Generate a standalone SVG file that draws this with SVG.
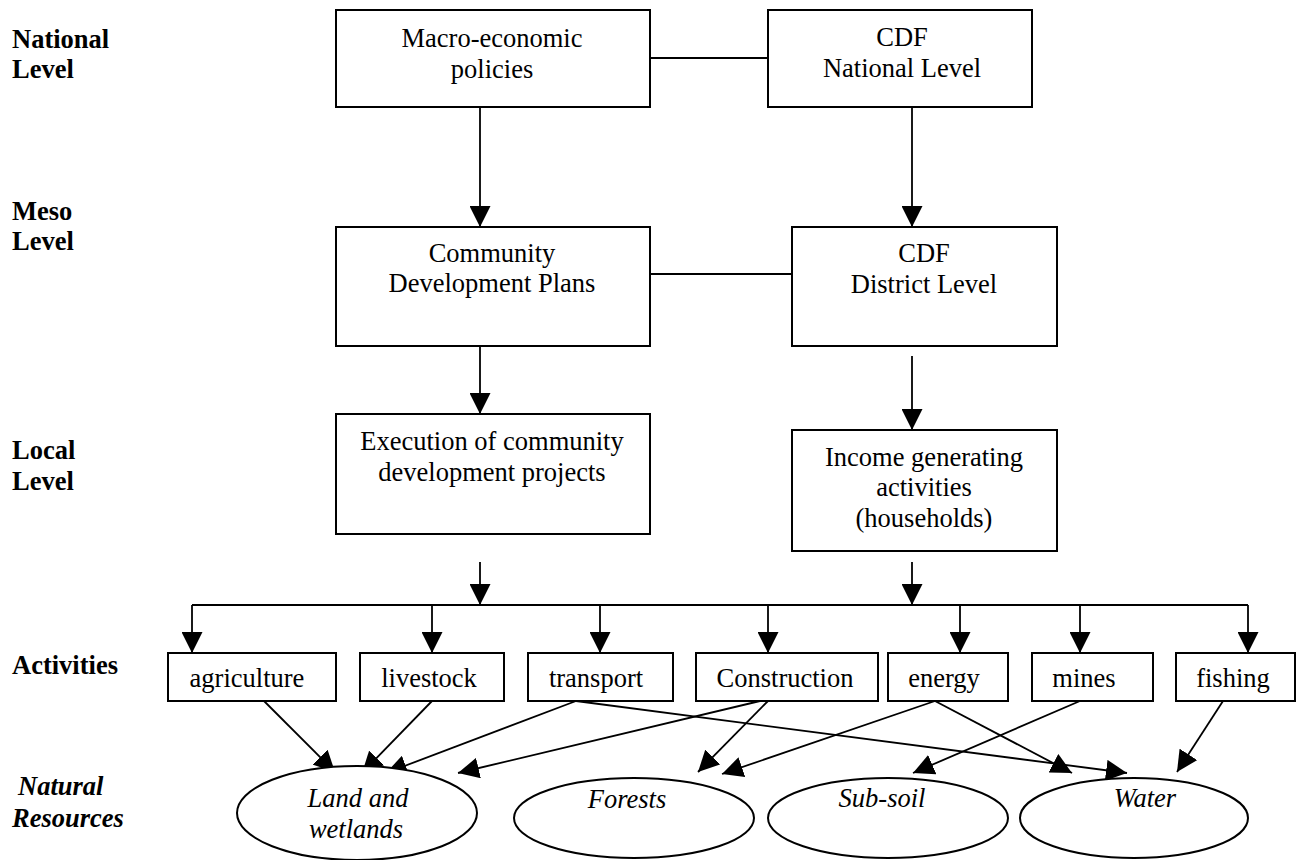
<svg xmlns="http://www.w3.org/2000/svg" width="1296" height="860" viewBox="0 0 1296 860">
<style>
  .box { fill: #fff; stroke: #000; stroke-width: 2; }
  .res { fill: #fff; stroke: #000; stroke-width: 2; }
  .ln { fill: none; stroke: #000; stroke-width: 1.8; }
  .ar { fill: none; stroke: #000; stroke-width: 1.8; marker-end: url(#ah); }
  .t { font-family: "Liberation Serif", "Times New Roman", serif; font-size: 26.5px; fill: #000; text-anchor: middle; }
  .ti { font-family: "Liberation Serif", "Times New Roman", serif; font-size: 26.5px; font-style: italic; fill: #000; text-anchor: middle; }
  .lbl { font-family: "Liberation Serif", "Times New Roman", serif; font-size: 26.5px; font-weight: bold; fill: #000; }
  .lbli { font-family: "Liberation Serif", "Times New Roman", serif; font-size: 26.5px; font-weight: bold; font-style: italic; fill: #000; }
</style>
<defs>
  <marker id="ah" markerUnits="userSpaceOnUse" markerWidth="21" markerHeight="21" refX="20" refY="10" orient="auto" viewBox="0 0 20 20">
    <path d="M0,0 L20,10 L0,20 Z" fill="#000"/>
  </marker>
</defs>
<rect width="1296" height="860" fill="#fff"/>

<g id="level-labels">
  <text class="lbl" x="12" y="48">National</text>
  <text class="lbl" x="12" y="78">Level</text>
  <text class="lbl" x="12" y="220">Meso</text>
  <text class="lbl" x="12" y="250">Level</text>
  <text class="lbl" x="12" y="459">Local</text>
  <text class="lbl" x="12" y="490">Level</text>
  <text class="lbl" x="12" y="674">Activities</text>
  <text class="lbli" x="18" y="795">Natural</text>
  <text class="lbli" x="12" y="827">Resources</text>
</g>

<g id="connectors">
  <line class="ln" x1="650" y1="58" x2="768" y2="58"/>
  <line class="ln" x1="650" y1="274" x2="792" y2="274"/>
  <line class="ar" x1="480" y1="107" x2="480" y2="227"/>
  <line class="ar" x1="912" y1="107" x2="912" y2="227"/>
  <line class="ar" x1="480" y1="346" x2="480" y2="414"/>
  <line class="ar" x1="912" y1="356" x2="912" y2="430"/>
  <line class="ar" x1="480" y1="562" x2="480" y2="605"/>
  <line class="ar" x1="912" y1="562" x2="912" y2="605"/>
  <line class="ln" x1="192" y1="605" x2="1248" y2="605"/>
  <line class="ar" x1="192" y1="605" x2="192" y2="653"/>
  <line class="ar" x1="432" y1="605" x2="432" y2="653"/>
  <line class="ar" x1="600" y1="605" x2="600" y2="653"/>
  <line class="ar" x1="768" y1="605" x2="768" y2="653"/>
  <line class="ar" x1="960" y1="605" x2="960" y2="653"/>
  <line class="ar" x1="1080" y1="605" x2="1080" y2="653"/>
  <line class="ar" x1="1248" y1="605" x2="1248" y2="653"/>
  <line class="ar" x1="264" y1="701" x2="335" y2="772"/>
  <line class="ar" x1="432" y1="701" x2="362" y2="773"/>
  <line class="ar" x1="576" y1="701" x2="386" y2="773"/>
  <line class="ar" x1="576" y1="701" x2="1127" y2="773"/>
  <line class="ar" x1="760" y1="701" x2="458" y2="773"/>
  <line class="ar" x1="768" y1="701" x2="698" y2="772"/>
  <line class="ar" x1="935" y1="701" x2="722" y2="774"/>
  <line class="ar" x1="935" y1="701" x2="1072" y2="773"/>
  <line class="ar" x1="1080" y1="701" x2="913" y2="773"/>
  <line class="ar" x1="1223" y1="701" x2="1177" y2="772"/>
</g>

<g id="macro">
  <rect class="box" x="336" y="10" width="314" height="97"/>
  <text class="t" x="492" y="47">Macro-economic</text>
  <text class="t" x="492" y="78">policies</text>
</g>
<g id="cdf-national">
  <rect class="box" x="768" y="10" width="264" height="97"/>
  <text class="t" x="902" y="46">CDF</text>
  <text class="t" x="902" y="77">National Level</text>
</g>
<g id="cdp">
  <rect class="box" x="336" y="227" width="314" height="119"/>
  <text class="t" x="492" y="262">Community</text>
  <text class="t" x="492" y="292">Development Plans</text>
</g>
<g id="cdf-district">
  <rect class="box" x="792" y="227" width="265" height="119"/>
  <text class="t" x="924" y="262">CDF</text>
  <text class="t" x="924" y="293">District Level</text>
</g>
<g id="execution">
  <rect class="box" x="336" y="414" width="314" height="120"/>
  <text class="t" x="492" y="450">Execution of community</text>
  <text class="t" x="492" y="481">development projects</text>
</g>
<g id="income">
  <rect class="box" x="792" y="430" width="265" height="121"/>
  <text class="t" x="924" y="466">Income generating</text>
  <text class="t" x="924" y="496">activities</text>
  <text class="t" x="924" y="527">(households)</text>
</g>

<g id="agriculture">
  <rect class="box" x="168" y="653" width="168" height="48"/>
  <text class="t" x="247" y="687">agriculture</text>
</g>
<g id="livestock">
  <rect class="box" x="360" y="653" width="144" height="48"/>
  <text class="t" x="429" y="687">livestock</text>
</g>
<g id="transport">
  <rect class="box" x="528" y="653" width="145" height="48"/>
  <text class="t" x="596" y="687">transport</text>
</g>
<g id="construction">
  <rect class="box" x="696" y="653" width="182" height="48"/>
  <text class="t" x="785" y="687">Construction</text>
</g>
<g id="energy">
  <rect class="box" x="888" y="653" width="120" height="48"/>
  <text class="t" x="944" y="687">energy</text>
</g>
<g id="mines">
  <rect class="box" x="1032" y="653" width="121" height="48"/>
  <text class="t" x="1084" y="687">mines</text>
</g>
<g id="fishing">
  <rect class="box" x="1176" y="653" width="119" height="48"/>
  <text class="t" x="1233" y="687">fishing</text>
</g>

<g id="land">
  <ellipse class="res" cx="357" cy="813" rx="120" ry="47"/>
  <text class="ti" x="358" y="807">Land and</text>
  <text class="ti" x="356" y="838">wetlands</text>
</g>
<g id="forests">
  <ellipse class="res" cx="634" cy="818" rx="120" ry="40"/>
  <text class="ti" x="627" y="808">Forests</text>
</g>
<g id="subsoil">
  <ellipse class="res" cx="888" cy="818" rx="120" ry="40"/>
  <text class="ti" x="882" y="807">Sub-soil</text>
</g>
<g id="water">
  <ellipse class="res" cx="1134" cy="818" rx="114" ry="40"/>
  <text class="ti" x="1145" y="807">Water</text>
</g>
</svg>
